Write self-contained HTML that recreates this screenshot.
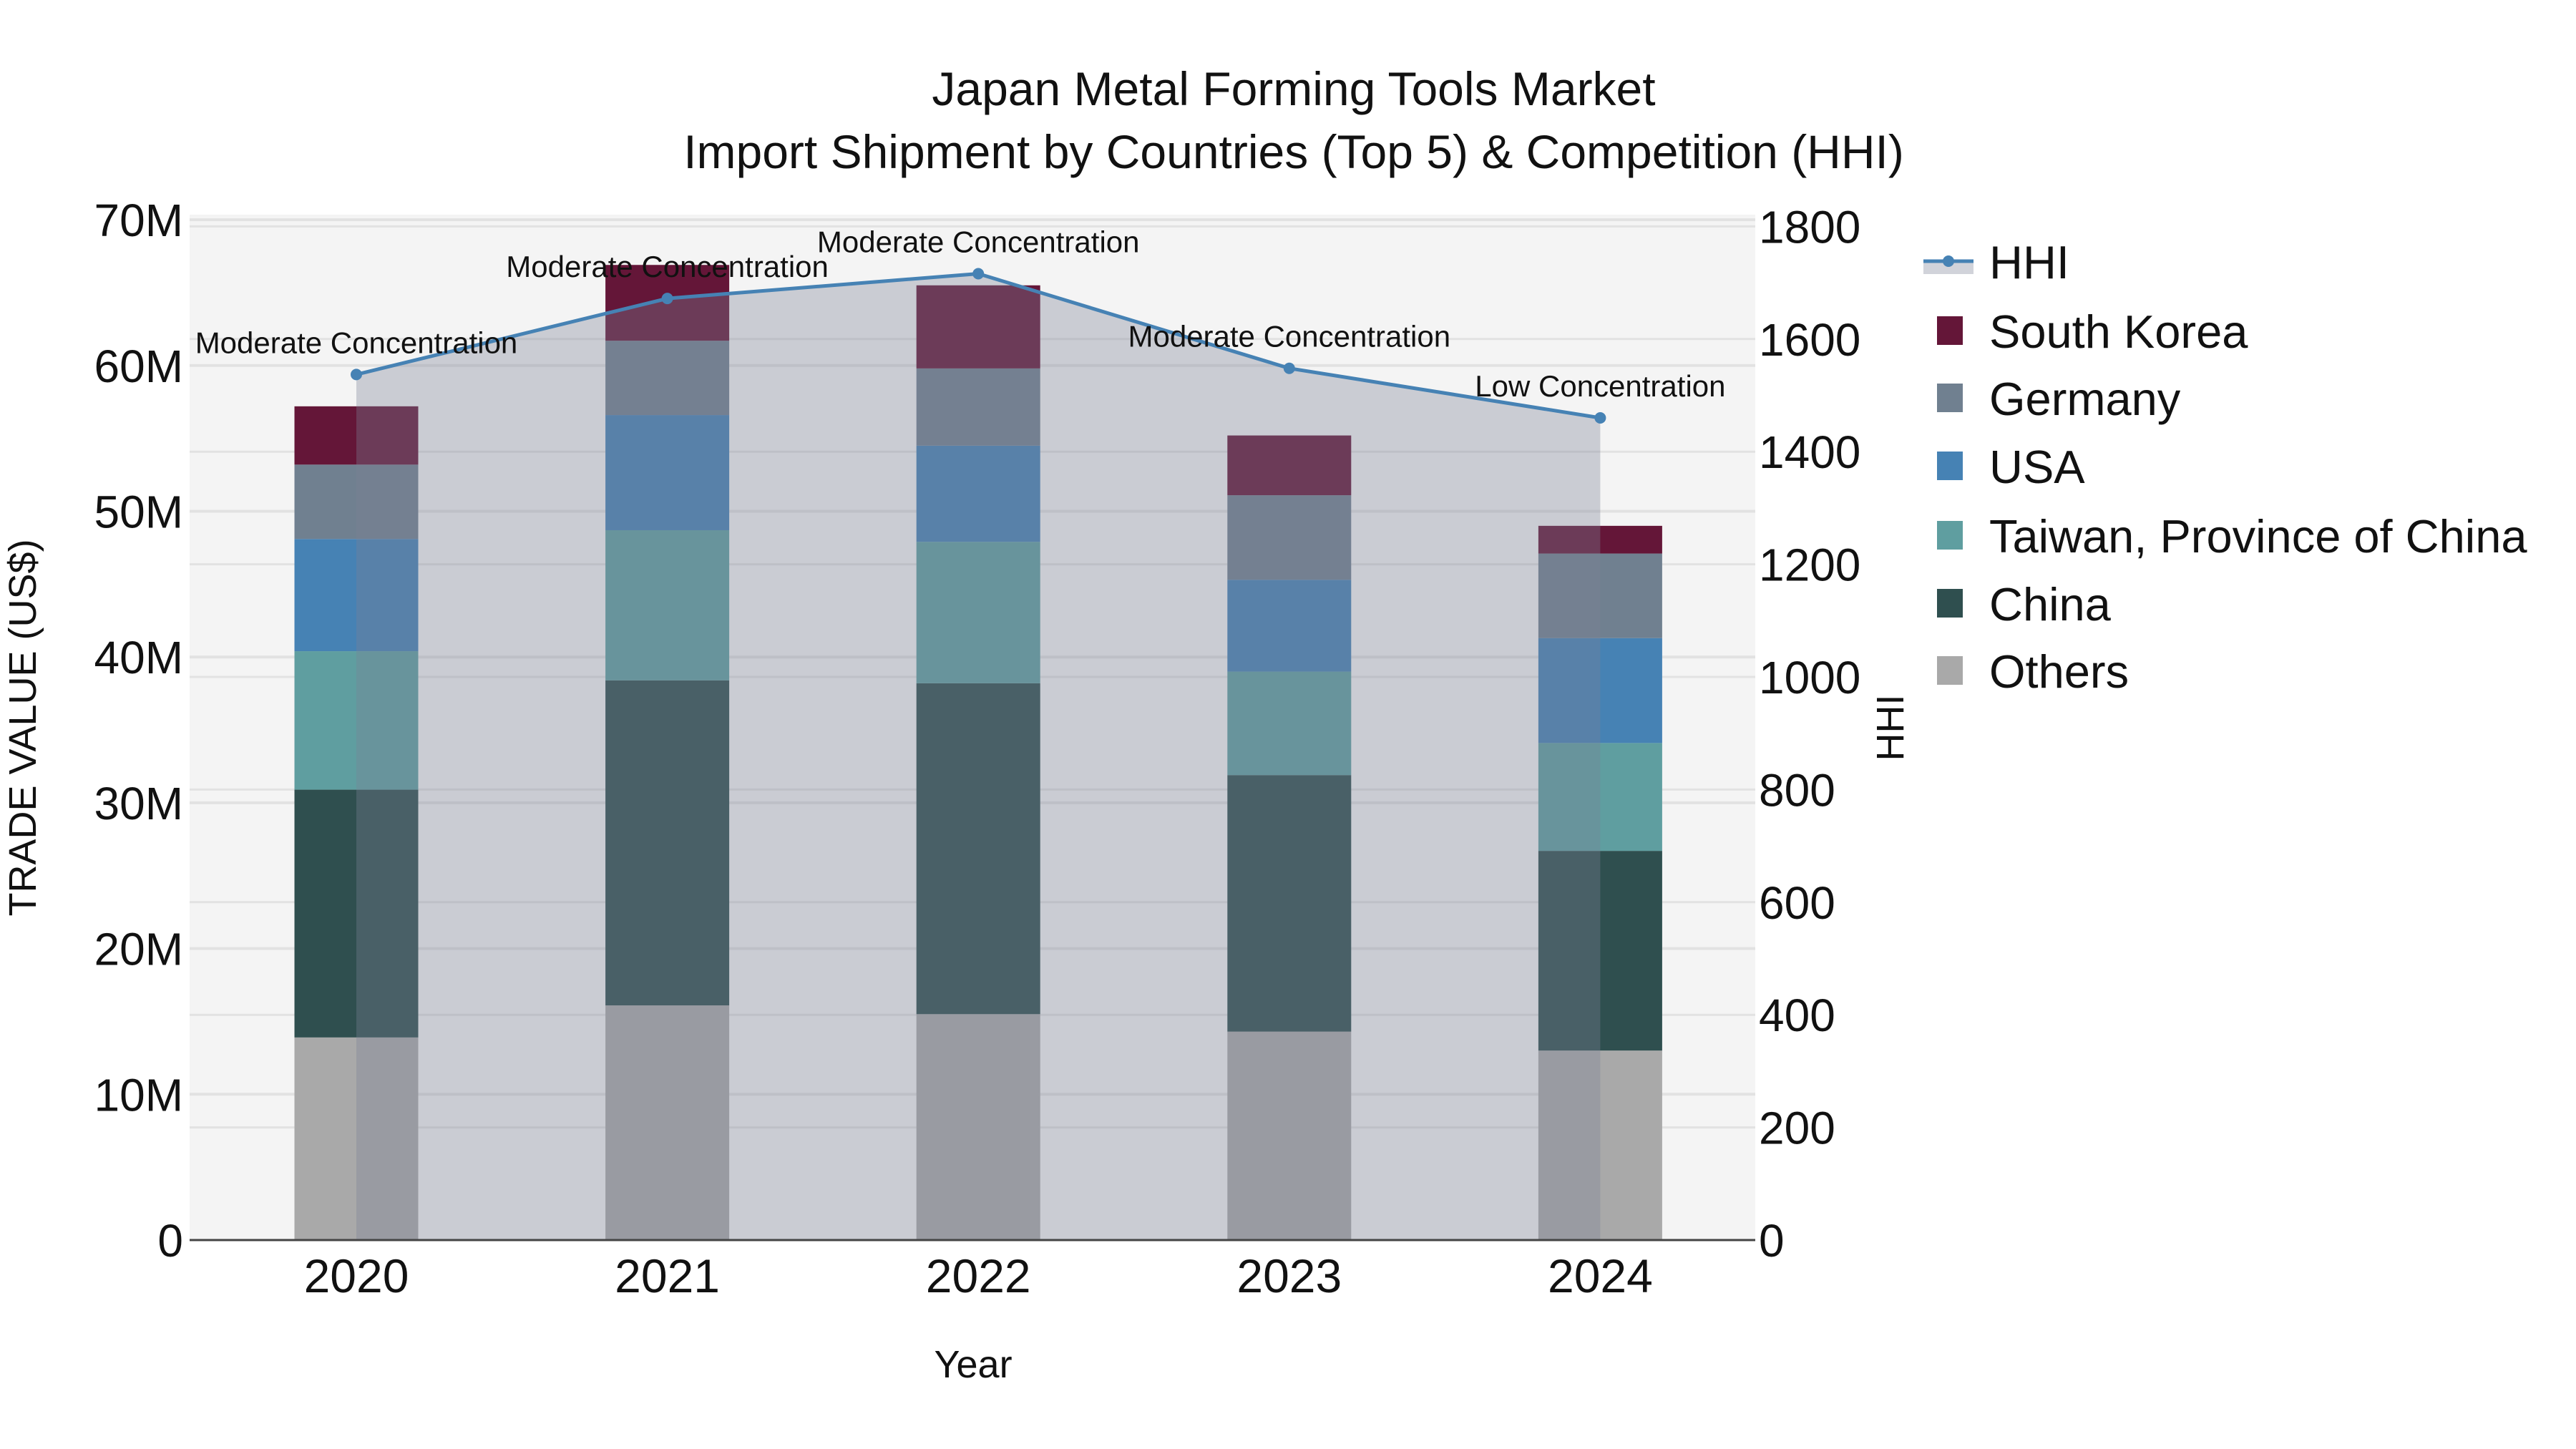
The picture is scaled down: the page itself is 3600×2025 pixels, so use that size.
<!DOCTYPE html>
<html><head><meta charset="utf-8"><style>
html,body{margin:0;padding:0;background:#fff;}
svg{display:block;font-family:"Liberation Sans",sans-serif;}
</style></head><body>
<svg id="chart" width="3600" height="2025" viewBox="0 0 3600 2025" xmlns="http://www.w3.org/2000/svg">
<rect x="0" y="0" width="3600" height="2025" fill="#fff"/>
<rect x="265" y="300" width="2188" height="1433" fill="#f4f4f4"/>
<g id="grid"></g>
<g id="bars"></g>
<g id="hhi"></g>
<line x1="265" y1="1733" x2="2453" y2="1733" stroke="#444" stroke-width="3"/>
<g id="ticks"></g>
<text x="1808" y="147" font-size="66" text-anchor="middle" fill="#111">Japan Metal Forming Tools Market</text>
<text x="1808" y="235" font-size="66" text-anchor="middle" fill="#111">Import Shipment by Countries (Top 5) &amp; Competition (HHI)</text>
<text x="1360" y="1925" font-size="54" text-anchor="middle" fill="#111">Year</text>
<text transform="translate(50,1017) rotate(-90)" font-size="54" text-anchor="middle" fill="#111">TRADE VALUE (US$)</text>
<text transform="translate(2660,1017) rotate(-90)" font-size="54" text-anchor="middle" fill="#111">HHI</text>
<g id="legend"></g>
</svg>
<script>
const years = ["2020","2021","2022","2023","2024"];
const seriesNames = ["Others","China","Taiwan, Province of China","USA","Germany","South Korea"];
const others = [13.9, 16.1, 15.5, 14.3, 13.0];
const china = [17.0, 22.3, 22.7, 17.6, 13.7];
const taiwan = [9.5, 10.3, 9.7, 7.1, 7.4];
const usa = [7.7, 7.9, 6.6, 6.3, 7.2];
const germany = [5.1, 5.1, 5.3, 5.8, 5.8];
const southKorea = [4.0, 5.2, 5.7, 4.1, 1.9];
const hhi = [1537, 1672, 1716, 1548, 1460];
const hhiLabels = ["Moderate Concentration","Moderate Concentration","Moderate Concentration","Moderate Concentration","Low Concentration"];
const yTicks = [0,10,20,30,40,50,60,70];
const y2Ticks = [0,200,400,600,800,1000,1200,1400,1600,1800];
const colors = ["#a9a9a9","#2f4f4f","#5f9ea0","#4682b4","#708090","#641638"];

const NS = "http://www.w3.org/2000/svg";
const X0 = 265, X1 = 2453, Y0 = 1733;
function xC(i){ return 498 + 434.6 * i; }
function yL(v){ return Y0 - v * 20.37; }
function yR(v){ return Y0 - v * 0.787; }
function mk(tag, attrs, parent){ const e = document.createElementNS(NS, tag); for (const k in attrs) e.setAttribute(k, attrs[k]); parent.appendChild(e); return e; }

const grid = document.getElementById('grid');
yTicks.forEach(t => { if (t > 0) { const l = mk('line', {x1:X0, x2:X1, y1:yL(t), y2:yL(t), stroke:'#e2e2e2', 'stroke-width':4}, grid);

 }});
y2Ticks.forEach(t => { if (t > 0) { const l = mk('line', {x1:X0, x2:X1, y1:yR(t), y2:yR(t), stroke:'#e2e2e2', 'stroke-width':3}, grid);

 }});

const ticks = document.getElementById('ticks');
yTicks.forEach(t => { const e = mk('text', {x:256, y:yL(t)+23, 'font-size':64, 'text-anchor':'end', fill:'#111'}, ticks); e.textContent = t === 0 ? '0' : t + 'M';

 });
y2Ticks.forEach(t => { const e = mk('text', {x:2458, y:yR(t)+23, 'font-size':64, fill:'#111'}, ticks); e.textContent = t;

 });
years.forEach((yr, i) => { const e = mk('text', {x:xC(i), y:1806, 'font-size':66, 'text-anchor':'middle', fill:'#111'}, ticks); e.textContent = yr;

 });

const bars = document.getElementById('bars');
const data = [others, china, taiwan, usa, germany, southKorea];
const bw = 173;
years.forEach((yr, i) => {
  let base = 0;
  data.forEach((s, k) => {
    const v = s[i];
    const r = mk('rect', {x:xC(i)-bw/2, y:yL(base+v), width:bw, height:yL(base)-yL(base+v), fill:colors[k]}, bars);
    
    
    base += v;
  });
});

const hg = document.getElementById('hhi');
let pts = hhi.map((v, i) => xC(i) + ',' + yR(v));
const area = mk('polygon', {points: xC(0)+','+Y0+' '+pts.join(' ')+' '+xC(hhi.length-1)+','+Y0, fill:'rgba(122,130,150,0.35)'}, hg);


const line = mk('polyline', {points: pts.join(' '), fill:'none', stroke:'#4682b4', 'stroke-width':5}, hg);


hhi.forEach((v, i) => {
  const c = mk('circle', {cx:xC(i), cy:yR(v), r:8, fill:'#4682b4'}, hg);
  
  
  const t = mk('text', {x:xC(i), y:yR(v)-30, 'font-size':42, 'text-anchor':'middle', fill:'#111'}, hg);
  t.textContent = hhiLabels[i];
  
  
});

const lg = document.getElementById('legend');
const ly = [365, 462, 556, 651, 748, 843, 937];
const lr = mk('rect', {x:2688, y:365, width:70, height:18, fill:'rgba(122,130,150,0.35)'}, lg);


const ll = mk('line', {x1:2688, x2:2758, y1:365, y2:365, stroke:'#4682b4', 'stroke-width':5}, lg);


const lc = mk('circle', {cx:2723, cy:365, r:8, fill:'#4682b4'}, lg);


const lt = mk('text', {x:2780, y:389, 'font-size':65, fill:'#111'}, lg);
lt.textContent = 'HHI';


const order = [5,4,3,2,1,0];
order.forEach((k, j) => {
  const y = ly[j+1];
  const s = mk('rect', {x:2707, y:y-20, width:36, height:40, fill:colors[k]}, lg);
  
  
  const t = mk('text', {x:2780, y:y+24, 'font-size':65, fill:'#111'}, lg);
  t.textContent = seriesNames[k];
  
  
});
</script>
</body></html>
